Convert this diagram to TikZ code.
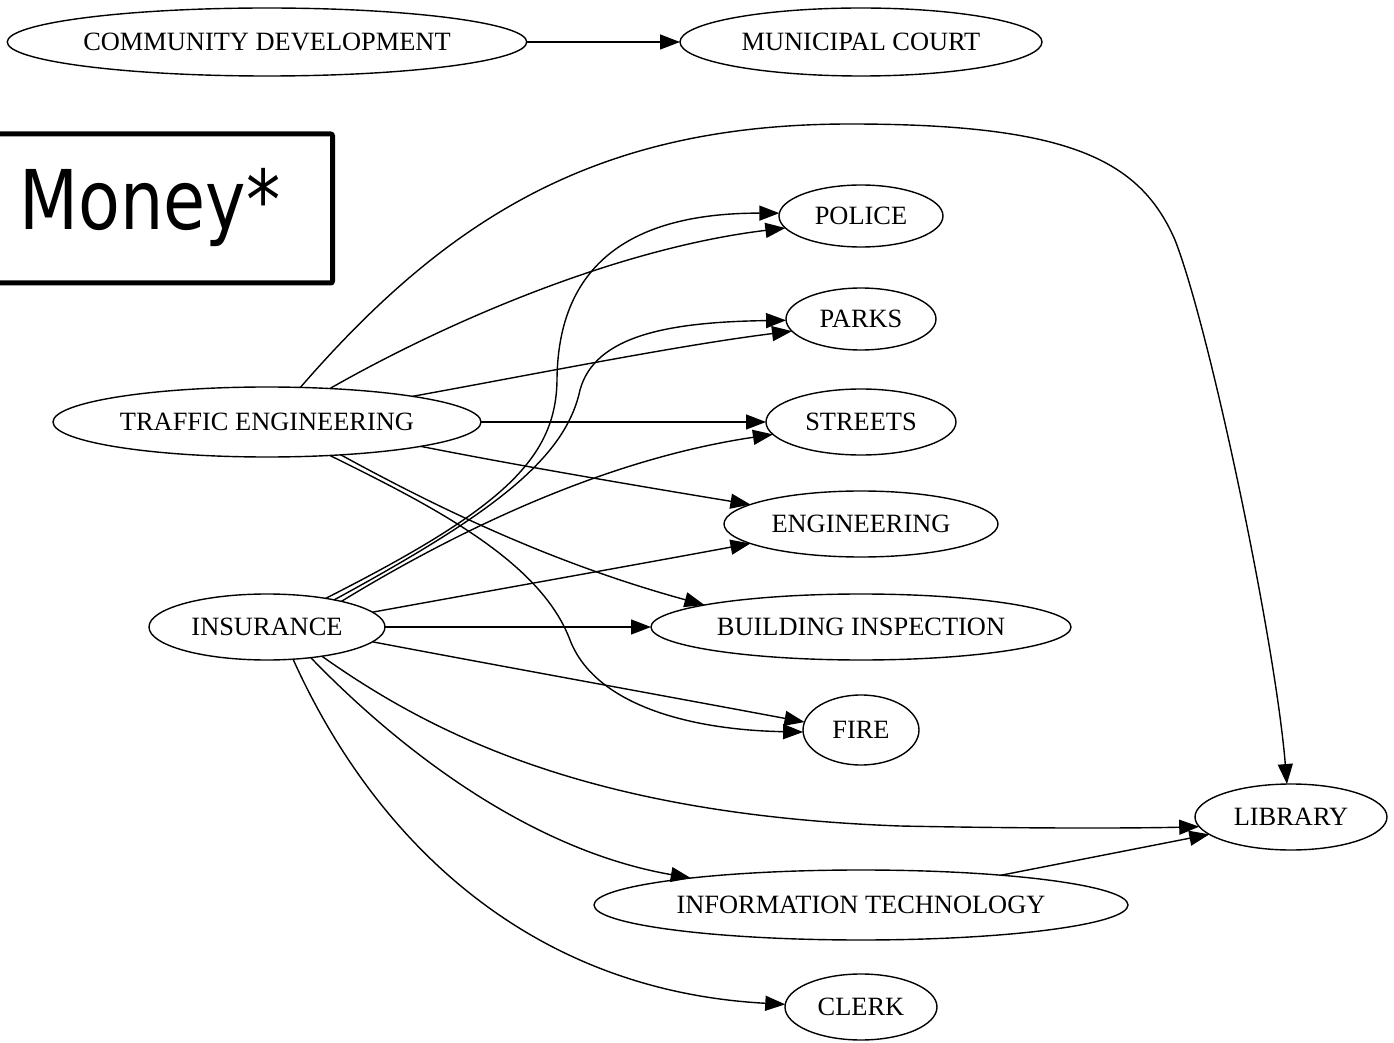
\documentclass[tikz,border=0pt]{standalone}
\usepackage{graphicx}
\usepackage{fontspec}
\setmainfont{Liberation Serif}
\newfontfamily\moneyfont{DejaVu Sans}
\usetikzlibrary{shapes.geometric,arrows.meta}
\begin{document}
\begin{tikzpicture}[x=0.5pt,y=-0.5pt,
  dept/.style={ellipse, draw, line width=0.7pt, inner sep=0pt, outer sep=0pt,
    font=\fontsize{13.2}{15}\selectfont},
  edge/.style={line width=0.7pt, -{Triangle[length=10pt,width=7.5pt]}},
]
\useasboundingbox (0,0) rectangle (1394,1043);

% money label
\node[draw, line width=2.5pt, rounded corners=1pt, minimum width=171.25pt,
  minimum height=74.5pt, inner sep=0pt] (moneybox) at (161.25,208.5) {};
\node[anchor=base west, inner sep=0pt, font=\moneyfont\fontsize{41.2}{45}\selectfont]
  (money) at (19,230) {\scalebox{0.83}[1]{Money*}};

% nodes
\node[dept, minimum width=259pt, minimum height=34pt] (cd) at (267,42) {COMMUNITY DEVELOPMENT};
\node[dept, minimum width=181pt, minimum height=34pt] (mc) at (861,42) {MUNICIPAL COURT};
\node[dept, minimum width=82pt, minimum height=31pt] (police) at (861,216) {POLICE};
\node[dept, minimum width=75pt, minimum height=31pt] (parks) at (861,319) {PARKS};
\node[dept, minimum width=95pt, minimum height=33pt] (streets) at (861,422) {STREETS};
\node[dept, minimum width=137pt, minimum height=33pt] (eng) at (861,524) {ENGINEERING};
\node[dept, minimum width=210pt, minimum height=33pt] (bi) at (861,627) {BUILDING INSPECTION};
\node[dept, minimum width=58pt, minimum height=35pt] (fire) at (861,730) {FIRE};
\node[dept, minimum width=96pt, minimum height=33pt] (lib) at (1291,817) {LIBRARY};
\node[dept, minimum width=267pt, minimum height=35pt] (it) at (861,905) {INFORMATION TECHNOLOGY};
\node[dept, minimum width=76pt, minimum height=33pt] (clerk) at (861,1007) {CLERK};
\node[dept, minimum width=214pt, minimum height=35pt] (tr) at (267,422) {TRAFFIC ENGINEERING};
\node[dept, minimum width=118pt, minimum height=33pt] (ins) at (267,627) {INSURANCE};

% edges
\draw[edge] (cd.east) -- (mc.west);

% traffic engineering
\draw[edge] (tr.46) .. controls (450,215) and (600,124) .. (850,124)
  .. controls (1070,124) and (1140,160) .. (1175,240)
  .. controls (1210,330) and (1275,640) .. (lib.97);
\draw[edge] (tr.28) .. controls (450,320) and (620,248) .. (police.189);
\draw[edge] (tr.10) .. controls (530,375) and (680,345) .. (parks.190);
\draw[edge] (tr.east) -- (streets.west);
\draw[edge] (tr.-9) .. controls (520,466) and (650,488) .. (eng.170);
\draw[edge] (tr.-24) .. controls (420,498) and (540,560) .. (bi.172);
\draw[edge] (tr.-28) .. controls (430,505) and (540,560) .. (570,640)
  .. controls (595,705) and (690,730) .. (fire.182);

% insurance
\draw[edge] (ins.26) .. controls (500,510) and (556,460) .. (557,380)
  .. controls (558,250) and (650,213) .. (police.178);
\draw[edge] (ins.22) .. controls (490,515) and (565,460) .. (580,390)
  .. controls (595,335) and (670,322) .. (parks.181);
\draw[edge] (ins.19) .. controls (450,535) and (600,460) .. (streets.188);
\draw[edge] (ins.8) .. controls (500,589) and (640,564) .. (eng.190);
\draw[edge] (ins.east) -- (bi.west);
\draw[edge] (ins.-8) .. controls (516,669) and (660,695) .. (fire.172);
\draw[edge] (ins.-28) .. controls (440,740) and (600,815) .. (900,826)
  .. controls (1050,829) and (1150,828) .. (lib.186);
\draw[edge] (ins.-35) .. controls (400,750) and (530,850) .. (it.171);
\draw[edge] (ins.-51) .. controls (370,830) and (520,990) .. (clerk.178);

% information technology
\draw[edge] (it.12) -- (lib.192);
\end{tikzpicture}
\end{document}
